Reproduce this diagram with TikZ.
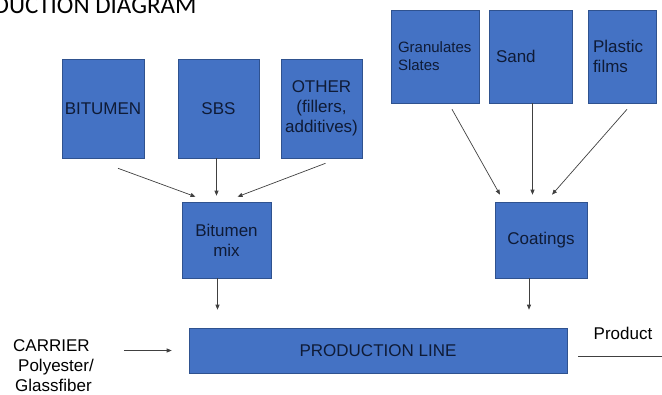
\documentclass[tikz,border=0pt]{standalone}
\usepackage{fontspec}
\setmainfont{Liberation Sans}
\newfontfamily\titlefont{Carlito}
\usetikzlibrary{arrows.meta}
\definecolor{boxblue}{HTML}{4472C4}
\definecolor{boxedge}{HTML}{2F528F}
\definecolor{boxtext}{HTML}{0F1B36}
\definecolor{linegray}{HTML}{404040}

\begin{document}
\begin{tikzpicture}[x=1pt, y=-1pt,
  stock/.style={draw=boxedge, fill=boxblue, line width=0.6pt, inner sep=0pt, text=boxtext,
                font=\fontsize{17}{20}\selectfont, align=center},
  topstock/.style={stock, align=left, inner xsep=#1, minimum height=93pt},
  feed/.style={-{Triangle[length=5pt,width=4pt]}, draw=linegray, line width=0.7pt},
  plain/.style={draw=linegray, line width=0.7pt}]
\useasboundingbox (0,0) rectangle (662,394);
\clip (0,0) rectangle (662,394);
\node[anchor=base east, font=\titlefont\fontsize{25}{30}\selectfont] (title) at (200,13) {PRODUCTION DIAGRAM};

\node[stock, minimum width=82pt, minimum height=99pt] (bitumen) at (103,108.5) {BITUMEN};
\node[stock, minimum width=81pt, minimum height=99pt] (sbs)     at (218.5,108.5) {SBS};
\node[stock, minimum width=81pt, minimum height=99pt] (other)   at (321.5,108.5) {OTHER\\(fillers,\\additives)};
\node[topstock=7pt, text width=74pt, font=\fontsize{15}{18}\selectfont] (granul) at (435,56.5) {Granulates\\Slates};
\node[topstock=7pt, text width=69pt] (sand)    at (530.5,56.5) {Sand};
\node[topstock=5pt, text width=58pt] (plastic) at (622,56.5) {Plastic\\films};

\node[stock, minimum width=89pt, minimum height=76pt] (mix)  at (226.5,240) {Bitumen\\mix};
\node[stock, minimum width=92pt, minimum height=76pt] (coat) at (541,240) {Coatings};
\node[stock, minimum width=378pt, minimum height=45pt] (prod) at (378,350.5) {PRODUCTION LINE};

\node[anchor=north west, inner sep=0pt, align=left, font=\fontsize{17}{20}\selectfont] (carrier) at (13,339.5)
  {CARRIER\\\hspace{5pt}Polyester/\\\hspace{2pt}Glassfiber};
\node[inner sep=0pt, font=\fontsize{17}{20}\selectfont] (product) at (623,333) {Product};
\coordinate (outend) at (662,356);

\draw[feed] ([xshift=15pt,yshift=-10pt]bitumen.south) -- ([xshift=-31pt,yshift=5pt]mix.north);
\draw[feed, shorten >=6pt] ([xshift=-2pt]sbs.south) -- ([xshift=-2pt]sbs.south |- mix.north);
\draw[feed] ([xshift=4pt,yshift=-5pt]other.south) -- ([xshift=11pt,yshift=5pt]mix.north);

\draw[feed] ([xshift=17pt,yshift=-6pt]granul.south) -- ([xshift=-41pt,yshift=7pt]coat.north);
\draw[feed, shorten >=7pt] ([xshift=2pt]sand.south) -- ([xshift=2pt]sand.south |- coat.north);
\draw[feed] ([xshift=5pt,yshift=-6pt]plastic.south) -- ([xshift=11pt,yshift=7pt]coat.north);

\draw[feed, shorten >=18pt] ([xshift=-9pt]mix.south) -- ([xshift=-9pt]mix.south |- prod.north);
\draw[feed, shorten >=18pt] ([xshift=-12pt]coat.south) -- ([xshift=-12pt]coat.south |- prod.north);

\draw[feed, shorten <=30pt, shorten >=17pt] (carrier.east |- prod.west) -- (prod.west);
\draw[plain, shorten <=11pt] (prod.east |- outend) -- (outend);
\end{tikzpicture}
\end{document}
